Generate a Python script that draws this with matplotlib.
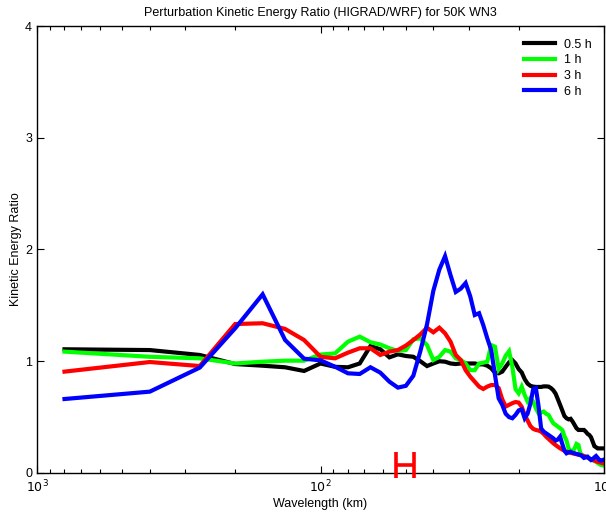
import numpy as np
import matplotlib
matplotlib.use("Agg")
import matplotlib.pyplot as plt
from matplotlib.ticker import LogLocator, NullFormatter, FixedLocator, FixedFormatter

plt.rcParams['font.family'] = ['Liberation Sans', 'DejaVu Sans']

# Domain length (km); wavelength of wavenumber k is domain_km / k
domain_km = 800.0
wavenumbers = np.arange(1, 81)

ratio_05h = [1.107, 1.10, 1.056, 0.975, 0.96, 0.946, 0.913, 0.98, 0.95, 0.946,
             0.98, 1.136, 1.107, 1.035, 1.062, 1.047, 1.04, 1.0, 0.957, 0.98,
             1.0, 0.996, 0.98, 0.975, 0.98, 0.98, 0.98, 0.98, 0.972, 0.972,
             0.96, 0.937, 0.898, 0.892, 0.907, 0.95, 0.99, 1.01, 0.98, 0.93,
             0.90, 0.84, 0.80, 0.78, 0.773, 0.77, 0.77, 0.77, 0.775, 0.775,
             0.773, 0.76, 0.74, 0.71, 0.66, 0.61, 0.56, 0.51, 0.49, 0.48,
             0.485, 0.46, 0.43, 0.40, 0.385, 0.385, 0.385, 0.385, 0.37, 0.35,
             0.34, 0.32, 0.28, 0.24, 0.23, 0.22, 0.22, 0.22, 0.22, 0.22]

ratio_1h = [1.086, 1.04, 1.026, 0.98, 0.996, 1.005, 1.005, 1.06, 1.07, 1.175,
            1.22, 1.17, 1.15, 1.116, 1.092, 1.10, 1.196, 1.205, 1.145, 1.011,
            1.04, 1.10, 1.086, 1.026, 1.011, 0.98, 0.92, 0.92, 0.98, 0.987,
            0.996, 1.145, 1.13, 0.93, 0.98, 1.05, 1.09, 0.95, 0.75, 0.713,
            0.773, 0.698, 0.64, 0.67, 0.64, 0.58, 0.534, 0.54, 0.55, 0.53,
            0.519, 0.48, 0.445, 0.43, 0.415, 0.40, 0.385, 0.33, 0.29, 0.22,
            0.20, 0.19, 0.22, 0.26, 0.25, 0.176, 0.16, 0.15, 0.146, 0.14,
            0.13, 0.12, 0.116, 0.11, 0.10, 0.09, 0.08, 0.072, 0.07, 0.065]

ratio_3h = [0.907, 0.993, 0.957, 1.333, 1.34, 1.289, 1.19, 1.04, 1.026, 1.077,
            1.116, 1.116, 1.056, 1.086, 1.10, 1.14, 1.19, 1.24, 1.30, 1.259,
            1.30, 1.25, 1.175, 1.056, 1.011, 0.92, 0.862, 0.817, 0.773, 0.752,
            0.773, 0.787, 0.787, 0.76, 0.66, 0.595, 0.61, 0.625, 0.635, 0.63,
            0.593, 0.52, 0.47, 0.42, 0.395, 0.385, 0.38, 0.37, 0.35, 0.325,
            0.305, 0.285, 0.266, 0.25, 0.235, 0.221, 0.21, 0.20, 0.19, 0.185,
            0.18, 0.176, 0.172, 0.168, 0.165, 0.161, 0.157, 0.152, 0.146, 0.14,
            0.13, 0.12, 0.116, 0.11, 0.105, 0.10, 0.097, 0.092, 0.088, 0.085]

ratio_6h = [0.662, 0.728, 0.943, 1.295, 1.599, 1.19, 1.023, 1.008, 0.951, 0.892,
            0.886, 0.946, 0.898, 0.817, 0.764, 0.78, 0.87, 1.09, 1.33, 1.63,
            1.82, 1.94, 1.77, 1.62, 1.65, 1.70, 1.58, 1.414, 1.43, 1.324,
            1.205, 1.10, 0.877, 0.668, 0.61, 0.53, 0.50, 0.49, 0.52, 0.56,
            0.57, 0.49, 0.53, 0.62, 0.75, 0.76, 0.60, 0.40, 0.37, 0.355,
            0.34, 0.325, 0.31, 0.29, 0.30, 0.325, 0.26, 0.20, 0.176, 0.185,
            0.19, 0.18, 0.176, 0.17, 0.165, 0.161, 0.15, 0.135, 0.14, 0.146,
            0.13, 0.116, 0.125, 0.14, 0.152, 0.135, 0.116, 0.11, 0.115, 0.12]

series_labels = ['0.5 h', '1 h', '3 h', '6 h']
series_colors = ['#000000', '#00ff00', '#ff0000', '#0000ff']

# Resolution marker: centre wavelength and horizontal extent (km)
marker_center_km = 50.0
marker_span_km = (46.8, 54.2)
marker_level = 0.072

wavelength = domain_km / wavenumbers

fig = plt.figure(figsize=(6.06, 5.12), dpi=100)
ax = fig.add_axes([0.0611, 0.0762, 0.9356, 0.873])

for vals, lab, col in zip([ratio_05h, ratio_1h, ratio_3h, ratio_6h],
                          series_labels, series_colors):
    ax.plot(wavelength, vals, color=col, lw=3.0, label=lab,
            solid_joinstyle='miter')

ax.errorbar([marker_center_km], [marker_level],
            xerr=[[marker_center_km - marker_span_km[0]],
                  [marker_span_km[1] - marker_center_km]],
            fmt='none', ecolor='#ff0000', elinewidth=2.6, capsize=9.4,
            capthick=2.6, clip_on=False, zorder=5)

ax.set_xscale('log')
ax.set_xlim(1000, 10)
ax.set_ylim(0, 4)

ax.xaxis.set_major_locator(FixedLocator([1000, 100, 10]))
ax.xaxis.set_major_formatter(FixedFormatter([r'$10^3$', r'$10^2$', r'$10^1$']))
ax.xaxis.set_minor_locator(LogLocator(base=10, subs=np.arange(2, 10)))
ax.xaxis.set_minor_formatter(NullFormatter())
ax.set_yticks([0, 1, 2, 3, 4])

ax.tick_params(which='both', direction='in', top=True, right=True,
               labelsize=9, width=0.8, colors='black')
ax.tick_params(which='major', length=5)
ax.tick_params(which='minor', length=3)
ax.tick_params(axis='x', pad=4)
for sp in ax.spines.values():
    sp.set_linewidth(1.0)

ax.set_title('Perturbation Kinetic Energy Ratio (HIGRAD/WRF) for 50K WN3',
             fontsize=9, pad=7)
ax.set_xlabel('Wavelength (km)', fontsize=9, labelpad=2)
ax.set_ylabel('Kinetic Energy Ratio', fontsize=9, labelpad=2)

leg = ax.legend(loc='upper right', fontsize=9, handlelength=2.5,
                handletextpad=0.7, labelspacing=0.3, borderaxespad=0.6,
                frameon=False, borderpad=0.4)

fig.savefig('out.png', dpi=100)
